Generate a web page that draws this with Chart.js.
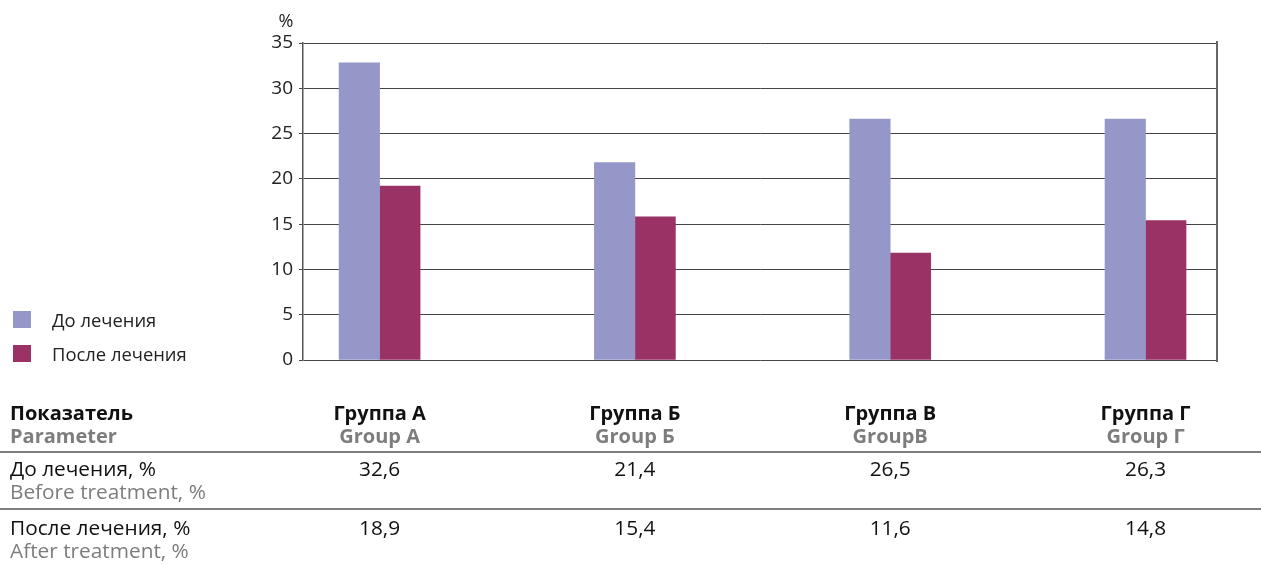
<!DOCTYPE html>
<html>
<head>
<meta charset="utf-8">
<script src="https://cdn.jsdelivr.net/npm/chart.js@4"></script>
<style>
  body { margin: 0; background: #fff; }
  #wrap { width: 1261px; height: 564px; position: relative; }
</style>
</head>
<body>
<div id="wrap"><canvas id="treatmentChart"></canvas></div>
<script>
// values
const groups = ['Группа А', 'Группа Б', 'Группа В', 'Группа Г'];
const groupsEn = ['Group A', 'Group Б', 'GroupВ', 'Group Г'];
const seriesNames = ['До лечения', 'После лечения'];
const beforeBars = [32.8, 21.8, 26.6, 26.6];
const afterBars = [19.2, 15.8, 11.8, 15.4];
// numbers printed in the table
const beforeTable = ['32,6', '21,4', '26,5', '26,3'];
const afterTable = ['18,9', '15,4', '11,6', '14,8'];
const rowNames = ['До лечения, %', 'После лечения, %'];
const rowNamesEn = ['Before treatment, %', 'After treatment, %'];

const FONT = '"Open Sans", "Noto Sans", sans-serif';
const colors = ['#9597c8', '#9a3265'];

// legend, right border, % label and the table under the chart
const extras = {
  id: 'extras',
  afterDraw(chart) {
    const ctx = chart.ctx;
    const area = chart.chartArea;
    const x = chart.scales.x;
    ctx.save();

    // right frame line
    ctx.strokeStyle = '#666';
    ctx.lineWidth = 2;
    ctx.beginPath();
    ctx.moveTo(area.right, area.top - 2);
    ctx.lineTo(area.right, area.bottom + 2);
    ctx.stroke();

    // unit label
    ctx.fillStyle = '#222';
    ctx.font = '18px ' + FONT;
    ctx.textAlign = 'center';
    ctx.textBaseline = 'alphabetic';
    ctx.fillText('%', 286, 27);

    // legend
    ctx.textAlign = 'left';
    ctx.font = '18.4px ' + FONT;
    [311, 345].forEach((top, i) => {
      ctx.fillStyle = colors[i];
      ctx.fillRect(13, top, 18, 17);
      ctx.fillStyle = '#222';
      ctx.fillText(seriesNames[i], 52, top + 16);
    });

    // table lines
    ctx.strokeStyle = '#555';
    ctx.lineWidth = 1.5;
    [452, 509].forEach(y => {
      ctx.beginPath();
      ctx.moveTo(0, y);
      ctx.lineTo(1261, y);
      ctx.stroke();
    });

    // header
    ctx.font = 'bold 20px ' + FONT;
    ctx.fillStyle = '#111';
    ctx.fillText('Показатель', 10, 420);
    ctx.fillStyle = '#7d7d7d';
    ctx.fillText('Parameter', 10, 443);

    ctx.textAlign = 'center';
    groups.forEach((g, i) => {
      const cx = x.getPixelForValue(i);
      ctx.fillStyle = '#111';
      ctx.fillText(g, cx, 420);
      ctx.fillStyle = '#7d7d7d';
      ctx.fillText(groupsEn[i], cx, 443);
    });

    // rows
    const rows = [beforeTable, afterTable];
    const base = [476, 535];
    ctx.font = '20.8px ' + FONT;
    rows.forEach((vals, r) => {
      ctx.textAlign = 'left';
      ctx.fillStyle = '#111';
      ctx.fillText(rowNames[r], 10, base[r]);
      ctx.fillStyle = '#7d7d7d';
      ctx.fillText(rowNamesEn[r], 10, base[r] + 23);
      ctx.textAlign = 'center';
      ctx.fillStyle = '#111';
      vals.forEach((v, i) => ctx.fillText(v, x.getPixelForValue(i), base[r]));
    });

    ctx.restore();
  }
};

const ctx = document.getElementById('treatmentChart').getContext('2d');

new Chart(ctx, {
  type: 'bar',
  data: {
    datasets: [
      {
        label: seriesNames[0],
        data: beforeBars.map((v, i) => ({ x: i, y: v })),
        backgroundColor: colors[0],
        borderWidth: 0
      },
      {
        label: seriesNames[1],
        data: afterBars.map((v, i) => ({ x: i, y: v })),
        backgroundColor: colors[1],
        borderWidth: 0
      }
    ]
  },
  options: {
    responsive: true,
    maintainAspectRatio: false,
    animation: false,
    layout: { padding: { left: 0, top: 43, right: 44, bottom: 204 } },
    datasets: { bar: { barThickness: 40.5 } },
    plugins: {
      legend: { display: false },
      tooltip: { enabled: false }
    },
    scales: {
      x: {
        type: 'linear',
        min: -0.3,
        max: 3.28,
        offset: false,
        display: false
      },
      y: {
        min: 0,
        max: 35,
        afterFit(axis) { axis.width = 303; },
        ticks: {
          stepSize: 5,
          color: '#222',
          padding: 6,
          font: { family: FONT, size: 19 }
        },
        grid: {
          color: '#444',
          lineWidth: 1,
          tickLength: 4
        },
        border: { color: '#555', width: 1.5 }
      }
    }
  },
  plugins: [extras]
});
</script>
</body>
</html>
